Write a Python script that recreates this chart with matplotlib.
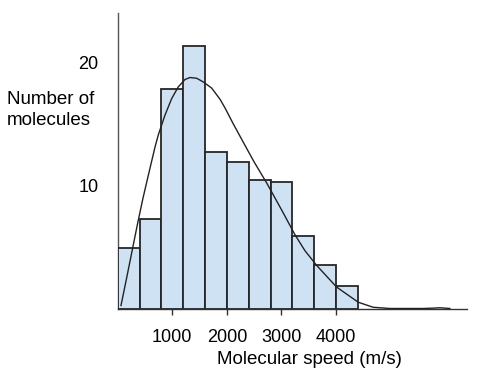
import matplotlib
matplotlib.use("Agg")
import matplotlib.pyplot as plt

plt.rcParams['font.family'] = ['Liberation Sans', 'DejaVu Sans']

# Histogram bins (m/s) and counts
bin_starts = [0, 400, 800, 1200, 1600, 2000, 2400, 2800, 3200, 3600, 4000]
bin_width = 400
counts = [4.9, 7.3, 17.8, 21.3, 12.7, 11.9, 10.4, 10.3, 5.9, 3.5, 1.8]

# Fitted distribution curve
curve_v = [60, 160, 260, 360, 460, 560, 683, 744, 866, 989, 1110, 1233, 1324,
           1447, 1568, 1722, 1874, 1965, 2117, 2240, 2363, 2500, 2729, 3004,
           3247, 3430, 3645, 4011, 4407, 4681, 4987, 5592, 5780, 5903, 6000, 6086]
curve_n = [0.24, 2.4, 4.6, 6.8, 8.9, 10.8, 13.1, 14.1, 15.7, 17.05, 18.0, 18.6, 18.76,
           18.7, 18.4, 17.9, 17.0, 16.3, 15.0, 14.0, 13.0, 11.9, 10.2, 8.0,
           6.0, 4.7, 3.5, 1.74, 0.51, 0.1, 0.0, 0.0, 0.03, 0.06, 0.03, 0.0]

xticks = [1000, 2000, 3000, 4000]
yticks = [10, 20]

W, H = 491, 387
fig = plt.figure(figsize=(W / 100, H / 100), dpi=100)
left, right = 117.7 / W, 467 / W
bottom, top = (H - 308.5) / H, (H - 13) / H
ax = fig.add_axes([left, bottom, right - left, top - bottom])

ax.bar(bin_starts, counts, width=bin_width, align='edge',
       color='#cfe2f3', edgecolor='#262626', linewidth=1.3, zorder=2)
ax.plot(curve_v, curve_n, color='#222222', linewidth=1.0, zorder=3,
        solid_joinstyle='round')

ax.set_xlim(0, 6400)
ax.set_ylim(0, 24.0)

for s in ['top', 'right']:
    ax.spines[s].set_visible(False)
ax.spines['left'].set_color('#555555')
ax.spines['left'].set_linewidth(1.0)
ax.spines['bottom'].set_color('#333333')
ax.spines['bottom'].set_linewidth(1.0)
ax.spines['left'].set_zorder(1)

ax.set_xticks(xticks)
ax.set_xticklabels([str(t) for t in xticks], fontsize=13)
ax.tick_params(axis='x', direction='inout', length=9, width=1.0, color='#333333', pad=10)
ax.set_yticks(yticks)
ax.set_yticklabels([str(t) for t in yticks], fontsize=13)
ax.tick_params(axis='y', length=0, pad=14)

fig.text(309 / W, 1 - 359 / H, 'Molecular speed (m/s)', fontsize=13.5,
         ha='center', va='center')
fig.text(7 / W, 1 - 110 / H, 'Number of\nmolecules', fontsize=13.5,
         ha='left', va='center', linespacing=1.25)

fig.savefig('out.png', dpi=100)
